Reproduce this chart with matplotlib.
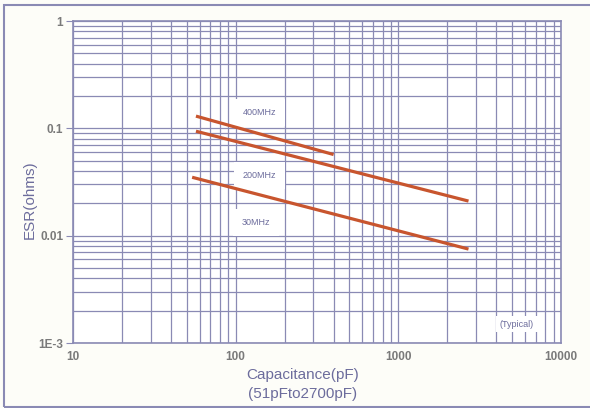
import matplotlib
matplotlib.use("Agg")
import matplotlib.pyplot as plt
from matplotlib.patches import Rectangle
from matplotlib.ticker import LogLocator, FixedLocator

plt.rcParams['font.family'] = ['Liberation Sans', 'DejaVu Sans']

# ESR vs capacitance curves
cap_400 = [57, 400]
esr_400 = [0.13, 0.057]
cap_200 = [57, 2700]
esr_200 = [0.094, 0.021]
cap_30 = [54, 2700]
esr_30 = [0.035, 0.0075]

x_ticks = [10, 100, 1000, 10000]
x_labels = ["10", "100", "1000", "10000"]
y_ticks = [0.001, 0.01, 0.1, 1]
y_labels = ["1E-3", "0.01", "0.1", "1"]

grid_col = '#8a8ab4'
line_col = '#c8552e'
text_col = '#6c6c9c'

fig = plt.figure(figsize=(5.9, 4.08), dpi=100, facecolor='#fdfdf8')
ax = fig.add_axes([73/590, 1-343/408, (561-73)/590, (343-21)/408])

ax.set_xscale('log')
ax.set_yscale('log')
ax.set_xlim(10, 10000)
ax.set_ylim(0.001, 1)

ax.plot(cap_400, esr_400, color=line_col, lw=2.3, solid_capstyle='butt', zorder=5)
ax.plot(cap_200, esr_200, color=line_col, lw=2.3, solid_capstyle='butt', zorder=5)
ax.plot(cap_30, esr_30, color=line_col, lw=2.3, solid_capstyle='butt', zorder=5)

ax.xaxis.set_major_locator(FixedLocator(x_ticks))
ax.yaxis.set_major_locator(FixedLocator(y_ticks))
ax.xaxis.set_minor_locator(LogLocator(base=10, subs=range(2, 10)))
ax.yaxis.set_minor_locator(LogLocator(base=10, subs=range(2, 10)))
ax.set_xticklabels(x_labels)
ax.set_yticklabels(y_labels)
ax.grid(True, which='both', color=grid_col, lw=0.9)
ax.tick_params(which='minor', length=0)
ax.tick_params(axis='x', which='major', length=0, pad=6)
ax.tick_params(axis='y', which='major', length=5, color=grid_col, pad=2)
for lab in ax.get_xticklabels() + ax.get_yticklabels():
    lab.set_fontsize(8.5)
    lab.set_fontweight('bold')
    lab.set_color('#7a7a7a')
for s in ax.spines.values():
    s.set_color(grid_col)
    s.set_linewidth(1.2)

box = dict(boxstyle='square,pad=1.0', fc='white', ec='none')
ax.text(140, 0.14, "400MHz", fontsize=6.5, color=text_col, ha='center', va='center', bbox=box, zorder=4)
ax.text(140, 0.0362, "200MHz", fontsize=6.5, color=text_col, ha='center', va='center', bbox=box, zorder=4)
ax.text(133, 0.0133, "30MHz", fontsize=6.5, color=text_col, ha='center', va='center', bbox=box, zorder=4)
ax.text(5360, 0.0015, "(Typical)", fontsize=6.5, color=text_col, ha='center', va='center',
        bbox=dict(boxstyle='square,pad=0.4', fc='white', ec='none'), zorder=4)

fig.text(303/590, 1-375/408, "Capacitance(pF)", fontsize=11, color=text_col, ha='center', va='center')
fig.text(303/590, 1-394/408, "(51pFto2700pF)", fontsize=11, color=text_col, ha='center', va='center')
fig.text(30/590, 1-200/408, "ESR(ohms)", fontsize=11, color=text_col, ha='center', va='center', rotation=90)

# outer frame
fig.patches.append(Rectangle((4/590, 1/408), 600/590, 402/408, transform=fig.transFigure,
                             fill=False, ec='#8a8ab4', lw=1.5))

fig.savefig("out.png", dpi=100, facecolor=fig.get_facecolor())
